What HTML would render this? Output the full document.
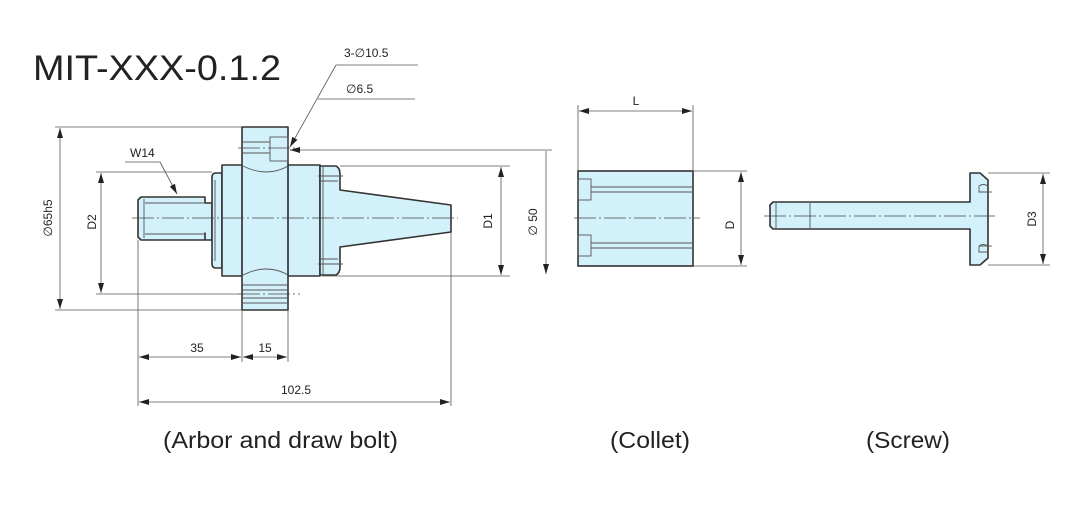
<!DOCTYPE html>
<html><head><meta charset="utf-8"><style>
html,body{margin:0;padding:0;background:#fff;}
svg{display:block;}
text{font-family:"Liberation Sans",Arial,sans-serif;fill:#222;}
</style></head><body>
<svg width="1070" height="511" viewBox="0 0 1070 511" xmlns="http://www.w3.org/2000/svg">
<defs>
<marker id="a" viewBox="0 0 10 6" refX="10" refY="3" markerWidth="10" markerHeight="6" orient="auto-start-reverse" markerUnits="userSpaceOnUse"><path d="M0,0 L10,3 L0,6 z" fill="#222"/></marker>
</defs>
<text x="33" y="80" font-size="35" textLength="248" lengthAdjust="spacingAndGlyphs">MIT-XXX-0.1.2</text>

<!-- ARBOR -->
<g fill="#d3f1fa" stroke="#333" stroke-width="1.6" stroke-linejoin="round">
<path d="M138,200 L141,197 L205,197 L205,203 L212,203 L212,240 L205,240 L205,233 L205,240 L141,240 L138,237 Z"/>
<path d="M212,177 Q212,173 216,173 L222,173 L222,268 L216,268 Q212,268 212,264 Z"/>
<rect x="222" y="165" width="98" height="111"/>
<rect x="242" y="127" width="46" height="183"/>
<path d="M320,166 L336,166 Q340,168 340,174 L340,190 L451,205 L451,232 L340,247 L340,267 Q340,273 336,275 L320,275 Z"/>
</g>
<rect x="243" y="166" width="44" height="109" fill="#d3f1fa"/>
<g fill="none" stroke="#555" stroke-width="0.9">
<path d="M243,166 Q255,172 266,172 Q278,172 288,166"/>
<path d="M243,275 Q255,269 266,269 Q278,269 288,275"/>
<line x1="242" y1="166" x2="242" y2="275" stroke="#333" stroke-width="1.2"/>
<line x1="288" y1="166" x2="288" y2="275" stroke="#333" stroke-width="1.2"/>
<rect x="270" y="137" width="18" height="24"/>
<line x1="243" y1="142" x2="270" y2="142"/>
<line x1="243" y1="153" x2="270" y2="153"/>
<line x1="243" y1="285" x2="288" y2="285"/><line x1="243" y1="290" x2="288" y2="290"/>
<line x1="243" y1="298" x2="288" y2="298"/><line x1="243" y1="303" x2="288" y2="303"/>
<line x1="145" y1="203" x2="205" y2="203"/><line x1="145" y1="234" x2="205" y2="234"/>
<line x1="144" y1="199" x2="144" y2="238"/>
<line x1="215" y1="180" x2="215" y2="261"/>
<line x1="323" y1="167" x2="323" y2="274"/>
<line x1="318" y1="176" x2="343" y2="176"/><line x1="320" y1="181" x2="338" y2="181"/>
<line x1="318" y1="264" x2="343" y2="264"/><line x1="320" y1="259" x2="338" y2="259"/>
</g>
<g stroke="#444" stroke-width="0.8" stroke-dasharray="22,3,2,3" fill="none">
<line x1="132" y1="218" x2="458" y2="218"/>
<line x1="238" y1="148" x2="300" y2="148"/>
<line x1="238" y1="294" x2="300" y2="294"/>
</g>

<!-- Arbor dims -->
<g stroke="#555" stroke-width="0.8" fill="none">
<line x1="55" y1="127" x2="242" y2="127"/>
<line x1="55" y1="310" x2="242" y2="310"/>
<line x1="60" y1="128" x2="60" y2="309" marker-start="url(#a)" marker-end="url(#a)"/>
<line x1="96" y1="172" x2="212" y2="172"/>
<line x1="96" y1="294" x2="242" y2="294"/>
<line x1="101" y1="173" x2="101" y2="293" marker-start="url(#a)" marker-end="url(#a)"/>
<line x1="340" y1="166" x2="510" y2="166"/>
<line x1="322" y1="276" x2="510" y2="276"/>
<line x1="501" y1="167" x2="501" y2="275" marker-start="url(#a)" marker-end="url(#a)"/>
<line x1="290" y1="150" x2="552" y2="150"/>
<line x1="546" y1="151" x2="546" y2="274" marker-end="url(#a)"/>
<line x1="300" y1="150" x2="290" y2="150" marker-end="url(#a)"/>
<line x1="138" y1="240" x2="138" y2="406"/>
<line x1="242" y1="310" x2="242" y2="362"/>
<line x1="288" y1="310" x2="288" y2="362"/>
<line x1="451" y1="232" x2="451" y2="406"/>
<line x1="139" y1="357" x2="241" y2="357" marker-start="url(#a)" marker-end="url(#a)"/>
<line x1="243" y1="357" x2="287" y2="357" marker-start="url(#a)" marker-end="url(#a)"/>
<line x1="139" y1="402" x2="450" y2="402" marker-start="url(#a)" marker-end="url(#a)"/>
<polyline points="125,162 160,162"/>
<line x1="160" y1="162" x2="177" y2="194" marker-end="url(#a)"/>
<polyline points="418,65 336,65"/>
<line x1="336" y1="65" x2="290" y2="147" marker-end="url(#a)"/>
<line x1="318" y1="99" x2="415" y2="99"/>
</g>
<text x="130" y="157" font-size="12">W14</text>
<text x="344" y="57" font-size="12">3-∅10.5</text>
<text x="346" y="93" font-size="12">∅6.5</text>
<text x="0" y="0" font-size="12" transform="translate(52,218) rotate(-90)" text-anchor="middle">∅65h5</text>
<text x="0" y="0" font-size="12" transform="translate(96,222) rotate(-90)" text-anchor="middle">D2</text>
<text x="0" y="0" font-size="12" transform="translate(492,221) rotate(-90)" text-anchor="middle">D1</text>
<text x="0" y="0" font-size="12" transform="translate(537,222) rotate(-90)" text-anchor="middle">∅ 50</text>
<text x="197" y="352" font-size="12" text-anchor="middle">35</text>
<text x="265" y="352" font-size="12" text-anchor="middle">15</text>
<text x="296" y="394" font-size="12" text-anchor="middle">102.5</text>

<!-- COLLET -->
<rect x="578" y="171" width="115" height="95" fill="#d3f1fa" stroke="#333" stroke-width="1.6"/>
<g fill="none" stroke="#555" stroke-width="0.9">
<rect x="578" y="179" width="13" height="21"/>
<rect x="578" y="235" width="13" height="21"/>
<line x1="591" y1="187" x2="692" y2="187"/><line x1="591" y1="192" x2="692" y2="192"/>
<line x1="591" y1="243" x2="692" y2="243"/><line x1="591" y1="248" x2="692" y2="248"/>
</g>
<line x1="574" y1="218" x2="700" y2="218" stroke="#444" stroke-width="0.8" stroke-dasharray="22,3,2,3"/>
<g stroke="#555" stroke-width="0.8" fill="none">
<line x1="578" y1="105" x2="578" y2="171"/><line x1="693" y1="105" x2="693" y2="171"/>
<line x1="579" y1="111" x2="692" y2="111" marker-start="url(#a)" marker-end="url(#a)"/>
<line x1="693" y1="171" x2="747" y2="171"/><line x1="693" y1="266" x2="747" y2="266"/>
<line x1="741" y1="172" x2="741" y2="265" marker-start="url(#a)" marker-end="url(#a)"/>
</g>
<text x="636" y="105" font-size="12" text-anchor="middle">L</text>
<text x="0" y="0" font-size="12" transform="translate(734,225) rotate(-90)" text-anchor="middle">D</text>

<!-- SCREW -->
<path d="M773,202 L970,202 L970,173 L980,173 L988,180 L988,258 L980,265 L970,265 L970,229 L773,229 L770,226 L770,205 Z" fill="#d3f1fa" stroke="#333" stroke-width="1.6" stroke-linejoin="round"/>
<g fill="none" stroke="#555" stroke-width="0.9">
<line x1="810" y1="203" x2="810" y2="228"/>
<line x1="776" y1="203" x2="776" y2="228"/>
<path d="M979,186 L979,192 L988,192 M979,186 Q983,183 988,186"/>
<line x1="979" y1="192" x2="992" y2="192"/>
<path d="M979,246 L979,252 L988,252 M979,246 Q983,243 988,246"/>
<line x1="979" y1="246" x2="992" y2="246"/>
</g>
<line x1="764" y1="216" x2="995" y2="216" stroke="#444" stroke-width="0.8" stroke-dasharray="22,3,2,3"/>
<g stroke="#555" stroke-width="0.8" fill="none">
<line x1="988" y1="173" x2="1050" y2="173"/><line x1="988" y1="265" x2="1050" y2="265"/>
<line x1="1043" y1="174" x2="1043" y2="264" marker-start="url(#a)" marker-end="url(#a)"/>
</g>
<text x="0" y="0" font-size="12" transform="translate(1036,219) rotate(-90)" text-anchor="middle">D3</text>

<text x="163" y="448" font-size="23" textLength="235" lengthAdjust="spacingAndGlyphs">(Arbor and draw bolt)</text>
<text x="610" y="448" font-size="23" textLength="80" lengthAdjust="spacingAndGlyphs">(Collet)</text>
<text x="866" y="448" font-size="23" textLength="84" lengthAdjust="spacingAndGlyphs">(Screw)</text>
</svg>
</body></html>
